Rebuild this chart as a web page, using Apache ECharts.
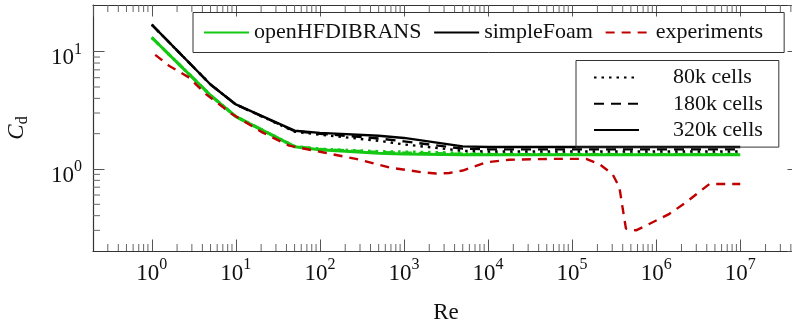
<!doctype html>
<html>
<head>
<meta charset="utf-8">
<title>Cd over Re</title>
<script src="https://cdn.jsdelivr.net/npm/echarts@6/dist/echarts.min.js"></script>
<style>
  html, body { margin: 0; padding: 0; background: #fff; }
  #chart { width: 792px; height: 324px; }
</style>
</head>
<body>
<div id="chart"></div>
<script>
// Reynolds numbers of the simulations
const re = [1, 5, 10, 50, 100, 500, 1000, 5000, 1e4, 5e4, 1e5, 5e5, 1e6, 5e6, 1e7];

// openHFDIBRANS (green)
const ibm320 = [13.2, 4.25, 2.8, 1.55, 1.46, 1.36, 1.34, 1.32, 1.32, 1.32, 1.32, 1.32, 1.32, 1.32, 1.32];
const ibm180 = [13.2, 4.25, 2.8, 1.55, 1.47, 1.39, 1.37, 1.34, 1.33, 1.33, 1.33, 1.33, 1.33, 1.33, 1.33];
const ibm80 = [13.2, 4.25, 2.8, 1.56, 1.48, 1.41, 1.40, 1.37, 1.35, 1.34, 1.34, 1.34, 1.34, 1.34, 1.34];

// simpleFoam (black)
const sf320 = [17.0, 5.25, 3.55, 2.12, 2.03, 1.92, 1.84, 1.56, 1.54, 1.54, 1.54, 1.54, 1.54, 1.54, 1.54];
const sf180 = [17.0, 5.25, 3.55, 2.1, 2.0, 1.82, 1.72, 1.49, 1.47, 1.47, 1.47, 1.47, 1.47, 1.47, 1.47];
const sf80 = [17.0, 5.25, 3.55, 2.08, 1.96, 1.74, 1.62, 1.43, 1.41, 1.41, 1.41, 1.41, 1.41, 1.41, 1.41];

// experiments (red dashed)
const expRe = [1.1, 1.6, 2.8, 4.4, 9.1, 20.7, 43, 107, 268, 668, 1660, 2400, 3460, 5000, 9500,
  17800, 59000, 147000, 211000, 302000, 365000, 400000, 437000, 576000, 760000, 1.44e6, 2.27e6, 4.3e6, 1e7];
const expCd = [9.4, 7.6, 6.0, 4.35, 2.93, 2.05, 1.58, 1.39, 1.22, 1.03, 0.937, 0.915, 0.925, 0.97, 1.14,
  1.2, 1.22, 1.22, 1.1, 0.907, 0.7, 0.46, 0.31, 0.30, 0.33, 0.415, 0.52, 0.745, 0.745];

// minor ticks (2..9 per decade)
const mantissa = [2, 3, 4, 5, 6, 7, 8, 9];
const xDecades = [0.1, 1, 10, 100, 1e3, 1e4, 1e5, 1e6, 1e7];
const yDecades = [0.1, 1];

const green = '#14c814';
const red = '#c00000';
const font = 'Liberation Serif';

const xMin = 0.2, xMax = 5e7, yMin = 0.2, yMax = 25;

const xMinor = [];
xDecades.forEach(d => mantissa.forEach(m => { const v = m * d; if (v > xMin && v < xMax) xMinor.push(v); }));
const yMinor = [];
yDecades.forEach(d => mantissa.forEach(m => { const v = m * d; if (v > yMin && v < yMax) yMinor.push(v); }));

function pairs(xs, ys) {
  return xs.map((x, i) => [x, ys[i]]);
}

function line(name, xs, ys, color, width, dash, z) {
  return {
    name: name,
    type: 'line',
    data: pairs(xs, ys),
    symbol: 'none',
    z: z,
    lineStyle: { color: color, width: width, type: dash },
    itemStyle: { color: color }
  };
}

function minorTicks(values, dir) {
  return {
    name: dir + '-minor',
    type: 'custom',
    silent: true,
    clip: false,
    z: 5,
    data: values.map(v => dir === 'x' ? [v, 1] : [1, v]),
    renderItem: function (params, api) {
      const cs = params.coordSys;
      const p = api.coord([api.value(0), api.value(1)]);
      const len = 7;
      let segs;
      if (dir === 'x') {
        segs = [[p[0], cs.y + cs.height, p[0], cs.y + cs.height - len], [p[0], cs.y, p[0], cs.y + len]];
      } else {
        segs = [[cs.x, p[1], cs.x + len, p[1]], [cs.x + cs.width, p[1], cs.x + cs.width - len, p[1]]];
      }
      return {
        type: 'group',
        children: segs.map(s => ({
          type: 'line',
          shape: { x1: s[0], y1: s[1], x2: s[2], y2: s[3] },
          style: { stroke: '#666', lineWidth: 1 }
        }))
      };
    }
  };
}

function powLabel(v) {
  return '{b|10}{s|' + Math.round(Math.log10(v)) + '}';
}

const labelRich = {
  b: { fontFamily: font, fontSize: 23, color: '#111', lineHeight: 28, verticalAlign: 'bottom' },
  s: { fontFamily: font, fontSize: 16, color: '#111', lineHeight: 15, verticalAlign: 'top' }
};

const axisLine = { show: true, lineStyle: { color: '#333', width: 1.2 } };
const axisTick = { show: true, inside: true, length: 11.5, lineStyle: { color: '#555', width: 1 } };

const chart = echarts.init(document.getElementById('chart'));
chart.setOption({
  animation: false,
  backgroundColor: '#fff',
  grid: { left: 93, width: 706, top: 5, bottom: 73, containLabel: false, outerBoundsMode: 'none' },
  legend: [
    {
      data: ['openHFDIBRANS', 'simpleFoam', 'experiments'],
      left: 193, top: 12.5,
      orient: 'horizontal',
      itemWidth: 45, itemHeight: 14, itemGap: 11.7,
      padding: [9, 21, 9, 10],
      borderColor: '#333', borderWidth: 1,
      selectedMode: false,
      itemStyle: { opacity: 0 },
      textStyle: { fontFamily: font, fontSize: 22, color: '#111', lineHeight: 20 }
    },
    {
      data: ['80k cells', '180k cells', '320k cells'],
      left: 576, top: 60.5,
      orient: 'vertical',
      itemWidth: 45, itemHeight: 14, itemGap: 4.3,
      padding: [6, 16, 6, 17],
      borderColor: '#333', borderWidth: 1,
      selectedMode: false,
      itemStyle: { opacity: 0 },
      textStyle: { fontFamily: font, fontSize: 22, color: '#111', lineHeight: 20, padding: [0, 0, 0, 29] }
    }
  ],
  xAxis: [
    {
      type: 'log', logBase: 10, min: xMin, max: xMax, splitNumber: 9,
      position: 'bottom',
      name: 'Re', nameLocation: 'middle', nameGap: 50,
      nameTextStyle: { fontFamily: font, fontSize: 23, color: '#111' },
      axisLine: axisLine, axisTick: axisTick, splitLine: { show: false },
      axisLabel: { margin: 6, showMinLabel: false, showMaxLabel: false, formatter: powLabel, rich: labelRich }
    },
    {
      type: 'log', logBase: 10, min: xMin, max: xMax, splitNumber: 9,
      position: 'top',
      axisLine: axisLine, axisTick: axisTick, splitLine: { show: false },
      axisLabel: { show: false }
    }
  ],
  yAxis: [
    {
      type: 'log', logBase: 10, min: yMin, max: yMax, splitNumber: 2,
      position: 'left',
      name: '{c|C}{d|d}', nameLocation: 'middle', nameGap: 62, nameRotate: 90,
      nameTextStyle: {
        rich: {
          c: { fontFamily: font, fontStyle: 'italic', fontSize: 23, color: '#111', lineHeight: 26, verticalAlign: 'top' },
          d: { fontFamily: font, fontSize: 16, color: '#111', lineHeight: 26, verticalAlign: 'bottom' }
        }
      },
      axisLine: axisLine, axisTick: axisTick, splitLine: { show: false },
      axisLabel: {
        margin: 11, padding: [8, 0, 0, 0], showMinLabel: false, showMaxLabel: false,
        formatter: powLabel, rich: labelRich
      }
    },
    {
      type: 'log', logBase: 10, min: yMin, max: yMax, splitNumber: 2,
      position: 'right',
      axisLine: axisLine, axisTick: axisTick, splitLine: { show: false },
      axisLabel: { show: false }
    }
  ],
  series: [
    line('openHFDIBRANS', re, ibm320, green, 3, 'solid', 2),
    line('openHFDIBRANS', re, ibm180, green, 3, [10, 7], 2),
    line('openHFDIBRANS', re, ibm80, green, 3, [2.5, 5], 2),
    line('simpleFoam', re, sf320, '#000', 2.4, 'solid', 3),
    line('simpleFoam', re, sf180, '#000', 2.4, [10, 7], 3),
    line('simpleFoam', re, sf80, '#000', 2.4, [2.5, 5], 3),
    line('experiments', expRe, expCd, red, 2.4, [9, 7], 4),
    line('80k cells', [], [], '#000', 2.4, [2.5, 5], 3),
    line('180k cells', [], [], '#000', 2.4, [10, 7], 3),
    line('320k cells', [], [], '#000', 2.4, 'solid', 3),
    minorTicks(xMinor, 'x'),
    minorTicks(yMinor, 'y')
  ]
});
</script>
</body>
</html>
